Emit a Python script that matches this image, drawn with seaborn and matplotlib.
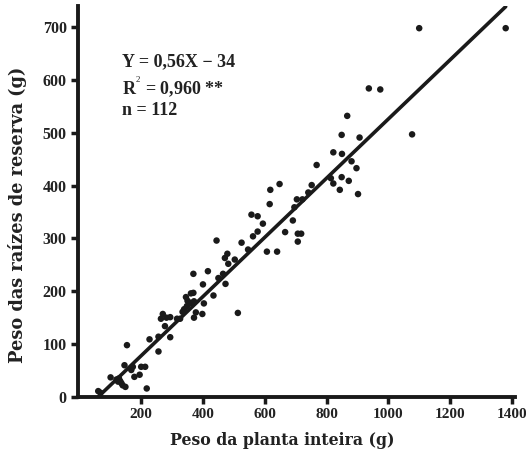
import numpy as np
import pandas as pd
import matplotlib
matplotlib.use("Agg")
import matplotlib.pyplot as plt
import seaborn as sns

# Data (whole plant weight vs reserve root weight, g)
planta = [61, 68, 101, 120, 125, 128, 132, 136, 140, 146, 149, 154, 168, 173, 178, 195, 200, 213, 218, 227, 256, 256,
          264, 270, 277, 282, 294, 294, 316, 326, 334, 339, 345, 348, 350, 361, 369, 361, 371, 369, 371, 377, 398, 403,
          400, 416, 434, 444, 450, 465, 473, 471, 479, 482, 503, 513, 525, 546,
          557, 562, 577, 577, 594, 607, 616, 618, 640, 648, 666, 691, 696, 704, 707, 707, 718, 722, 741, 752, 768,
          814, 822, 822, 843, 849, 850, 872, 881, 897, 902, 849, 867, 907, 937, 974, 1077, 1100, 1380]
raizes = [11, 8, 37, 33, 29, 35, 30, 26, 22, 60, 19, 98, 51, 57, 38, 42, 57, 57, 16, 109, 114, 86,
          148, 157, 134, 150, 151, 113, 148, 148, 161, 166, 189, 172, 182, 196, 197, 178, 181, 233, 150, 160, 157, 177,
          213, 238, 192, 296, 225, 233, 214, 263, 271, 252, 260, 159, 292, 279,
          345, 304, 342, 313, 328, 275, 365, 392, 275, 403, 312, 334, 359, 374, 309, 294, 309, 374, 387, 401, 439,
          414, 404, 463, 392, 416, 460, 409, 446, 433, 384, 496, 532, 491, 584, 582, 497, 698, 698]

slope, intercept = 0.56, -34
line_x = [61, 1380]
x_ticks = [200, 400, 600, 800, 1000, 1200, 1400]
y_ticks = [0, 100, 200, 300, 400, 500, 600, 700]

df = pd.DataFrame({"x": planta, "y": raizes})
line_df = pd.DataFrame({"x": line_x, "y": [slope * v + intercept for v in line_x]})

sns.set_theme(style="ticks")
plt.rcParams['font.family'] = ['Liberation Serif', 'DejaVu Serif']
plt.rcParams['mathtext.fontset'] = 'custom'
plt.rcParams['mathtext.rm'] = 'Liberation Serif'
plt.rcParams['mathtext.bf'] = 'Liberation Serif:bold'

ink = "#1a1a1a"
txt = "#222222"

fig = plt.figure(figsize=(5.26, 4.61), dpi=100)
ax = fig.add_axes([0.148, 0.139, 0.831, 0.848])

sns.lineplot(data=line_df, x="x", y="y", ax=ax, color=ink, lw=2.6)
sns.scatterplot(data=df, x="x", y="y", ax=ax, color=ink, s=22, edgecolor="none", zorder=3)

ax.set_xlim(-5, 1410)
ax.set_ylim(0, 740)
ax.set_xticks(x_ticks)
ax.set_yticks(y_ticks)
ax.set_xticklabels([str(t) for t in x_ticks], fontweight="bold", fontsize=11, color=txt)
ax.set_yticklabels([str(t) for t in y_ticks], fontweight="bold", fontsize=11.5, color=txt)
ax.tick_params(axis="both", which="major", length=5, width=2.5, color=ink, pad=3)

for side in ["top", "right"]:
    ax.spines[side].set_visible(False)
for side in ["left", "bottom"]:
    ax.spines[side].set_linewidth(2.8)
    ax.spines[side].set_color(ink)

ax.set_xlabel("")
ax.set_ylabel("")
fig.text(282.5 / 526, 1 - 440 / 461, "Peso da planta inteira (g)", family="DejaVu Serif",
         fontweight="bold", fontsize=11.3, color=txt, ha="center", va="center")
fig.text(18 / 526, 1 - 215 / 461, "Peso das raízes de reserva (g)", family="DejaVu Serif",
         fontweight="bold", fontsize=12.8, color=txt, ha="center", va="center", rotation=90)

txt_kw = dict(transform=ax.transAxes, fontsize=13, fontweight="bold", color=txt, ha="left", va="center")
ax.text(0.10, 0.858, "Y = 0,56X − 34", **txt_kw)
ax.text(0.10, 0.794, r"R$^{^2}$ = 0,960 **", **txt_kw)
ax.text(0.10, 0.733, "n = 112", **txt_kw)

fig.savefig("out.png", dpi=100)
